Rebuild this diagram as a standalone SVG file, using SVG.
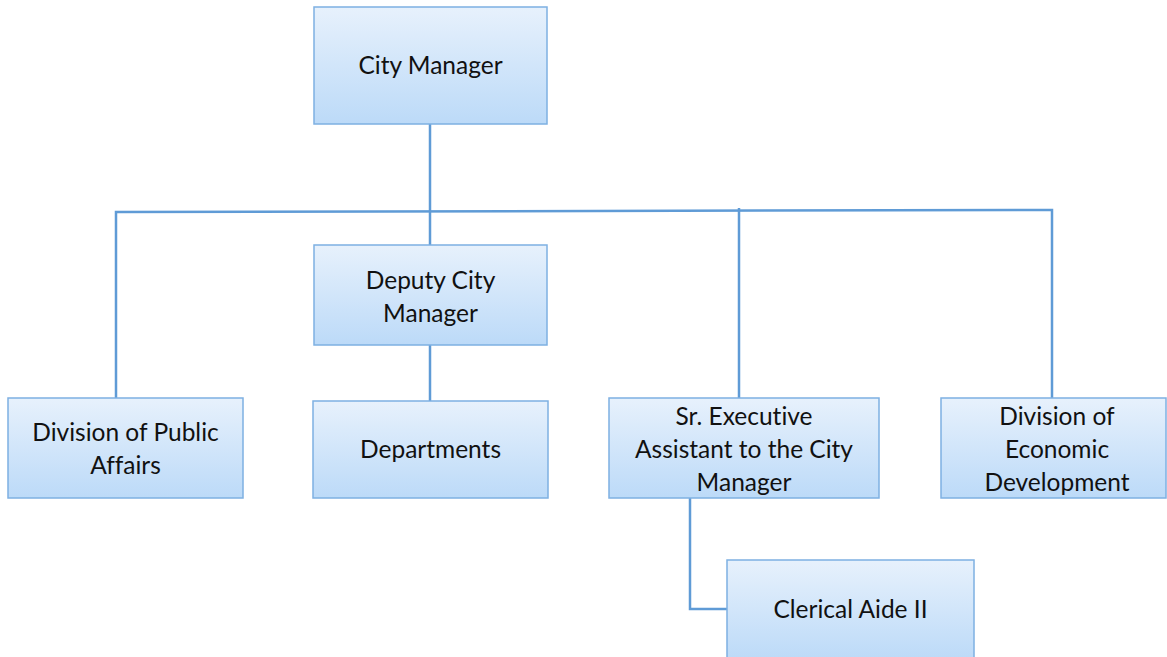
<svg xmlns="http://www.w3.org/2000/svg" width="1167" height="657" viewBox="0 0 1167 657">
  <defs>
    <linearGradient id="boxFill" x1="0" y1="0" x2="0" y2="1">
      <stop offset="0" stop-color="#e7f1fc"/>
      <stop offset="1" stop-color="#bcdaf8"/>
    </linearGradient>
    <style>
      .box { fill: url(#boxFill); stroke: #7eb0e2; stroke-width: 1.5; }
      .lbl { font-family: Lato, "Liberation Sans", sans-serif; font-size: 24.5px; fill: #111; text-anchor: middle; font-variant-ligatures: none; }
      .link { fill: none; stroke: #5f9bd6; stroke-width: 2.5; }
    </style>
  </defs>
  <rect width="1167" height="657" fill="#fff"/>

  <g id="connectors">
    <path class="link" d="M430 124 V245"/>
    <path class="link" d="M116 398 V212 L1052 210 V398"/>
    <path class="link" d="M739 398 V208"/>
    <path class="link" d="M430 345 V401"/>
    <path class="link" d="M690 498 V609 H727"/>
  </g>

  <g id="city-manager">
    <rect class="box" x="314" y="7" width="233" height="117"/>
    <text class="lbl" x="430.5" y="74">City Manager</text>
  </g>
  <g id="deputy-city-manager">
    <rect class="box" x="314" y="245" width="233" height="100"/>
    <text class="lbl" x="430.5" y="289">Deputy City</text>
    <text class="lbl" x="430.5" y="322">Manager</text>
  </g>
  <g id="public-affairs">
    <rect class="box" x="8" y="398" width="235" height="100"/>
    <text class="lbl" x="125.5" y="441">Division of Public</text>
    <text class="lbl" x="125.5" y="474">Affairs</text>
  </g>
  <g id="departments">
    <rect class="box" x="313" y="401" width="235" height="97"/>
    <text class="lbl" x="430.5" y="458">Departments</text>
  </g>
  <g id="sr-executive-assistant">
    <rect class="box" x="609" y="398" width="270" height="100"/>
    <text class="lbl" x="744" y="425">Sr. Executive</text>
    <text class="lbl" x="744" y="458">Assistant to the City</text>
    <text class="lbl" x="744" y="491">Manager</text>
  </g>
  <g id="economic-development">
    <rect class="box" x="941" y="398" width="225" height="100"/>
    <text class="lbl" x="1057" y="425">Division of</text>
    <text class="lbl" x="1057" y="458">Economic</text>
    <text class="lbl" x="1057" y="491">Development</text>
  </g>
  <g id="clerical-aide">
    <rect class="box" x="727" y="560" width="247" height="100"/>
    <text class="lbl" x="850.5" y="618">Clerical Aide II</text>
  </g>
</svg>
